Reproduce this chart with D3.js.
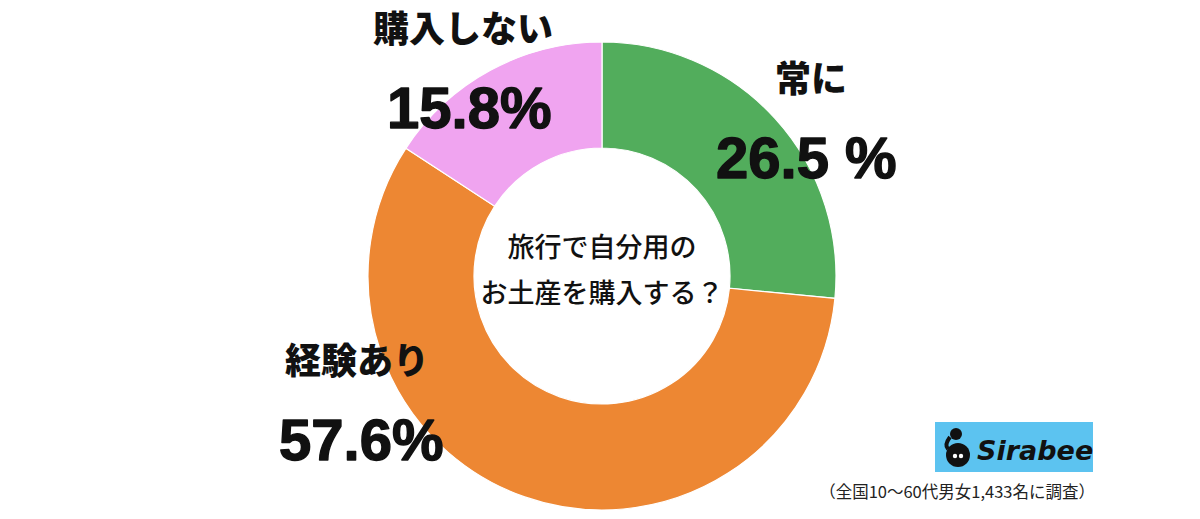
<!DOCTYPE html>
<html><head><meta charset="utf-8">
<script src="https://cdn.jsdelivr.net/npm/d3@7"></script>
<style>body{margin:0;background:#fff;}svg{display:block;}</style>
</head><body>
<svg id="c" width="1200" height="519"></svg>
<script>
const categories = ["常に", "経験あり", "購入しない"];
const values = [26.5, 57.6, 15.8];
const valueLabels = ["26.5 %", "57.6%", "15.8%"];
const colors = ["#52AD5C", "#ED8733", "#F0A4F0"];
const centerLines = ["旅行で自分用の", "お土産を購入する？"];
const footnote = "（全国10〜60代男女1,433名に調査）";

const svg = d3.select("#c");
const cx = 602, cy = 276, R = 234, r = 128;
const g = svg.append("g").attr("transform", `translate(${cx},${cy})`);
const pie = d3.pie().sort(null).value(d => d)(values);
const arc = d3.arc().innerRadius(r).outerRadius(R);
g.selectAll("path").data(pie).join("path")
  .attr("d", arc).attr("fill", (d,i) => colors[i])
  .attr("stroke", "#fff").attr("stroke-width", 1.2);

const jp = "'Noto Sans CJK JP', sans-serif";
const num = "'Liberation Sans', Arial, sans-serif";
const catPos = [[775, 92], [285, 374], [373, 42]];
const valPos = [[716, 178], [279, 460], [387, 128]];
svg.selectAll("text.cat").data(categories).join("text").attr("class","cat")
  .attr("x", (d,i)=>catPos[i][0]).attr("y",(d,i)=>catPos[i][1])
  .attr("font-family", jp).attr("font-weight", 900).attr("font-size", 36)
  .attr("fill","#111").text(d=>d);
svg.selectAll("text.val").data(valueLabels).join("text").attr("class","val")
  .attr("x", (d,i)=>valPos[i][0]).attr("y",(d,i)=>valPos[i][1])
  .attr("font-family", num).attr("font-weight", 700).attr("font-size", 58)
  .attr("fill","#111").attr("stroke","#111").attr("stroke-width",1.4)
  .attr("stroke-linejoin","round").text(d=>d);

svg.selectAll("text.ctr").data(centerLines).join("text").attr("class","ctr")
  .attr("x", cx).attr("y",(d,i)=> 257 + i*46)
  .attr("text-anchor","middle")
  .attr("font-family", jp).attr("font-weight", 500).attr("font-size", 27)
  .attr("fill","#111").text(d=>d);

// logo
const lg = svg.append("g");
lg.append("rect").attr("x",935).attr("y",422).attr("width",158).attr("height",50).attr("fill","#5CC3F0");
lg.append("circle").attr("cx",958).attr("cy",455).attr("r",12).attr("fill","#111");
lg.append("circle").attr("cx",956).attr("cy",434).attr("r",6).attr("fill","#111");
lg.append("path").attr("d","M950,437 Q944,445 948,449").attr("stroke","#111").attr("stroke-width",4).attr("fill","none");
lg.append("circle").attr("cx",955).attr("cy",456).attr("r",2.2).attr("fill","#fff");
lg.append("circle").attr("cx",961).attr("cy",456).attr("r",2.2).attr("fill","#fff");
lg.append("text").attr("x",977).attr("y",460).attr("font-family","'DejaVu Sans', sans-serif")
  .attr("font-weight",700).attr("font-style","italic").attr("font-size",27).attr("fill","#111").text("Sirabee");

svg.append("text").attr("x",1095).attr("y",498).attr("text-anchor","end")
  .attr("font-family", jp).attr("font-size",16.5).attr("fill","#222").text(footnote);
</script>
</body></html>
